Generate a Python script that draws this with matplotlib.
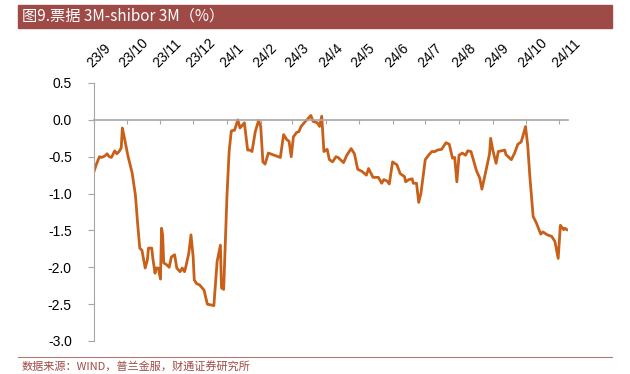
import numpy as np
import pandas as pd
import matplotlib
matplotlib.use('Agg')
import matplotlib.pyplot as plt
import matplotlib.dates as mdates
from matplotlib.patches import Rectangle
from matplotlib.transforms import blended_transform_factory

plt.rcParams['font.family'] = ['Liberation Sans', 'Noto Sans CJK SC', 'DejaVu Sans']

title = '图9.票据 3M-shibor 3M（%）'
source = '数据来源：WIND，普兰金服，财通证券研究所'

dates = [
    '2023-09-01', '2023-09-03', '2023-09-06', '2023-09-08', '2023-09-11', '2023-09-13',
    '2023-09-15', '2023-09-17', '2023-09-20', '2023-09-22', '2023-09-24', '2023-09-26',
    '2023-09-27', '2023-09-29', '2023-10-02', '2023-10-06', '2023-10-09', '2023-10-11',
    '2023-10-13', '2023-10-15', '2023-10-18', '2023-10-20', '2023-10-21', '2023-10-24',
    '2023-10-25', '2023-10-27', '2023-10-28', '2023-10-30', '2023-11-01', '2023-11-02',
    '2023-11-03', '2023-11-04', '2023-11-07', '2023-11-09', '2023-11-11', '2023-11-14',
    '2023-11-16', '2023-11-19', '2023-11-21', '2023-11-23', '2023-11-24', '2023-11-27',
    '2023-11-29', '2023-12-01', '2023-12-02', '2023-12-04', '2023-12-07', '2023-12-11',
    '2023-12-14', '2023-12-17', '2023-12-20', '2023-12-23', '2023-12-26', '2023-12-27',
    '2023-12-29', '2024-01-01', '2024-01-03', '2024-01-05', '2024-01-08', '2024-01-11',
    '2024-01-13', '2024-01-17', '2024-01-20', '2024-01-22', '2024-01-24', '2024-01-27',
    '2024-01-30', '2024-02-01', '2024-02-03', '2024-02-05', '2024-02-08', '2024-02-19',
    '2024-02-22', '2024-02-25', '2024-02-27', '2024-02-29', '2024-03-02', '2024-03-05',
    '2024-03-07', '2024-03-09', '2024-03-13', '2024-03-15', '2024-03-18', '2024-03-20',
    '2024-03-24', '2024-03-26', '2024-03-28', '2024-03-30', '2024-04-02', '2024-04-04',
    '2024-04-07', '2024-04-10', '2024-04-12', '2024-04-17', '2024-04-20', '2024-04-24',
    '2024-04-27', '2024-04-30', '2024-05-04', '2024-05-08', '2024-05-10', '2024-05-14',
    '2024-05-19', '2024-05-22', '2024-05-24', '2024-05-27', '2024-05-29', '2024-06-01',
    '2024-06-05', '2024-06-08', '2024-06-12', '2024-06-13', '2024-06-16', '2024-06-19',
    '2024-06-20', '2024-06-23', '2024-06-25', '2024-06-27', '2024-07-01', '2024-07-04',
    '2024-07-07', '2024-07-10', '2024-07-12', '2024-07-16', '2024-07-20', '2024-07-23',
    '2024-07-26', '2024-07-28', '2024-07-30', '2024-08-01', '2024-08-04', '2024-08-07',
    '2024-08-09', '2024-08-12', '2024-08-17', '2024-08-20', '2024-08-22', '2024-08-26',
    '2024-08-29', '2024-08-30', '2024-09-01', '2024-09-04', '2024-09-06', '2024-09-12',
    '2024-09-13', '2024-09-18', '2024-09-21', '2024-09-24', '2024-09-27', '2024-09-29',
    '2024-10-01', '2024-10-03', '2024-10-05', '2024-10-08', '2024-10-11', '2024-10-15',
    '2024-10-17', '2024-10-21', '2024-10-25', '2024-10-28', '2024-10-31', '2024-11-02',
    '2024-11-05', '2024-11-06', '2024-11-08',
]

spread = [
    -0.70, -0.61, -0.50, -0.51, -0.49, -0.46,
    -0.50, -0.51, -0.42, -0.46, -0.43, -0.38,
    -0.11, -0.25, -0.48, -0.72, -1.02, -1.40,
    -1.74, -1.77, -2.01, -1.90, -1.74, -1.74,
    -1.88, -2.08, -2.01, -2.01, -2.16, -1.47,
    -1.56, -1.94, -1.97, -2.00, -1.86, -1.83,
    -2.01, -2.06, -2.01, -2.06, -2.01, -1.81,
    -1.56, -1.86, -2.17, -2.22, -2.24, -2.31,
    -2.50, -2.51, -2.52, -1.92, -1.70, -2.28,
    -2.30, -1.04, -0.43, -0.15, -0.14, 0.00,
    -0.11, -0.04, -0.41, -0.41, -0.43, -0.16,
    -0.01, -0.09, -0.57, -0.60, -0.45, -0.51,
    -0.20, -0.27, -0.29, -0.50, -0.23, -0.17,
    -0.16, -0.09, -0.02, 0.01, 0.06, -0.02,
    -0.04, -0.09, 0.05, -0.43, -0.40, -0.54,
    -0.57, -0.50, -0.51, -0.58, -0.48, -0.39,
    -0.46, -0.67, -0.70, -0.75, -0.66, -0.78,
    -0.78, -0.86, -0.81, -0.83, -0.87, -0.57,
    -0.61, -0.73, -0.77, -0.84, -0.81, -0.80,
    -0.86, -0.86, -1.12, -1.00, -0.54, -0.48,
    -0.43, -0.43, -0.41, -0.40, -0.31, -0.33,
    -0.52, -0.51, -0.84, -0.48, -0.45, -0.48,
    -0.42, -0.43, -0.69, -0.79, -0.94, -0.67,
    -0.46, -0.25, -0.41, -0.59, -0.43, -0.41,
    -0.47, -0.54, -0.45, -0.33, -0.30, -0.20,
    -0.09, -0.34, -0.77, -1.31, -1.40, -1.55,
    -1.52, -1.56, -1.58, -1.65, -1.88, -1.43,
    -1.49, -1.47, -1.49,
]

month_ticks = pd.date_range('2023-09-01', '2024-11-01', freq='MS')
month_labels = ['23/9', '23/10', '23/11', '23/12', '24/1', '24/2', '24/3', '24/4',
                '24/5', '24/6', '24/7', '24/8', '24/9', '24/10', '24/11']

line_color = '#C8601A'
bar_color = '#9E4B47'
axis_color = '#A6A6A6'

fig = plt.figure(figsize=(6.3, 3.74), dpi=100)

# title bar
fig.patches.append(Rectangle((18 / 630, 1 - 28 / 374), 594 / 630, 23 / 374,
                             transform=fig.transFigure, color=bar_color, zorder=0))
fig.text(22 / 630, 1 - 16.5 / 374, title, color='white', fontsize=11,
         va='center', ha='left', family=['Noto Sans CJK SC', 'DejaVu Sans'])

# bottom rule and source
fig.add_artist(plt.Line2D([18 / 630, 612 / 630], [1 - 357 / 374] * 2,
                          transform=fig.transFigure, color='#B47A77', lw=0.8))
fig.text(22 / 630, 1 - 361 / 374, source, color=bar_color, fontsize=8,
         va='top', ha='left', family=['Noto Sans CJK SC', 'DejaVu Sans'])

ax = fig.add_axes([94 / 630, 1 - 341 / 374, 474 / 630, 258 / 374])
x = pd.to_datetime(dates)
ax.plot(x, spread, color=line_color, lw=2, solid_joinstyle='round')

ax.set_ylim(-3.0, 0.5)
ax.set_yticks(np.arange(-3.0, 0.51, 0.5))
ax.set_yticklabels(['%.1f' % v for v in np.arange(-3.0, 0.51, 0.5)], fontsize=10)
ax.set_xlim(pd.Timestamp('2023-09-01'), pd.Timestamp('2024-11-09'))

for s in ['top', 'right']:
    ax.spines[s].set_visible(False)
ax.spines['left'].set_color(axis_color)
ax.spines['bottom'].set_color(axis_color)
ax.spines['bottom'].set_position(('data', 0))
ax.spines['bottom'].set_linewidth(1.2)

ax.set_xticks(month_ticks)
ax.xaxis.set_major_formatter(mdates.DateFormatter(''))
ax.tick_params(axis='x', direction='out', length=3, color=axis_color, labelbottom=False)
ax.tick_params(axis='y', direction='out', length=4, color=axis_color, pad=12)

trans = blended_transform_factory(ax.transData, ax.transAxes)
for d, lab in zip(month_ticks, month_labels):
    ax.text(d, 1.05, lab, transform=trans, rotation=45, rotation_mode='anchor',
            ha='left', va='bottom', fontsize=10, clip_on=False)

fig.savefig('out.png', dpi=100)
